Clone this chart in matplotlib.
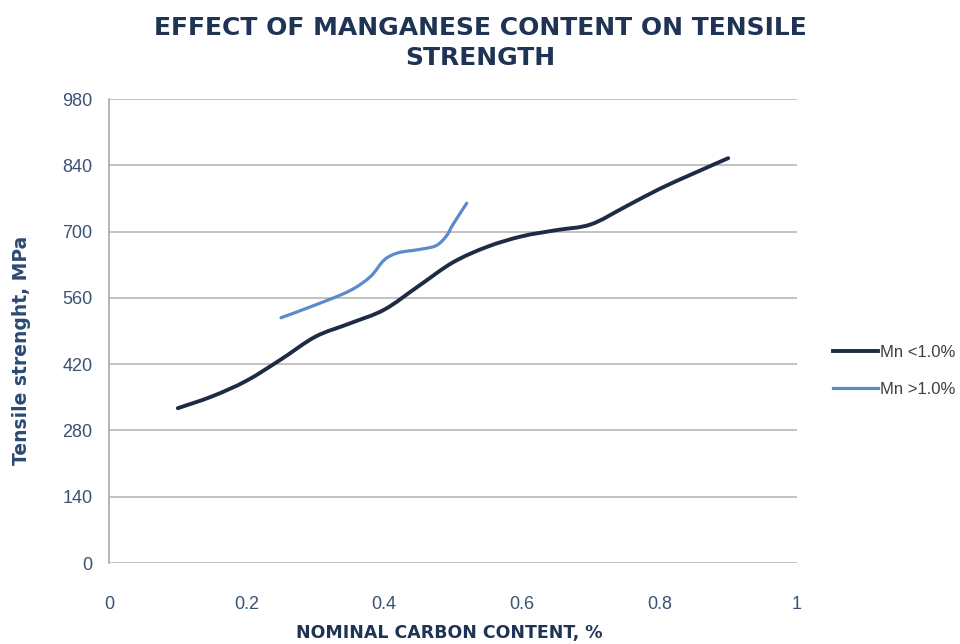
import matplotlib
matplotlib.use("Agg")
import matplotlib.pyplot as plt
from matplotlib.path import Path
from matplotlib.patches import PathPatch
from matplotlib.lines import Line2D

plt.rcParams['font.family'] = ['Liberation Sans', 'DejaVu Sans']

# Data
carbon_low_mn = [0.10, 0.15, 0.20, 0.25, 0.30, 0.35, 0.40, 0.45, 0.50, 0.55,
                 0.60, 0.65, 0.70, 0.75, 0.80, 0.85, 0.90]
strength_low_mn = [327, 352, 385, 430, 478, 506, 535, 585, 635, 668,
                   690, 703, 715, 752, 790, 823, 855]

carbon_high_mn = [0.25, 0.30, 0.35, 0.38, 0.40, 0.42, 0.45, 0.475, 0.49, 0.50, 0.52]
strength_high_mn = [518, 545, 575, 605, 640, 655, 662, 670, 690, 715, 760]

x_ticks = [0, 0.2, 0.4, 0.6, 0.8, 1]
x_tick_labels = ['0', '0.2', '0.4', '0.6', '0.8', '1']
y_ticks = [0, 140, 280, 420, 560, 700, 840, 980]

title_text = "EFFECT OF MANGANESE CONTENT ON TENSILE\nSTRENGTH"
x_label = "NOMINAL CARBON CONTENT, %"
y_label = "Tensile strenght, MPa"
series_names = ["Mn <1.0%", "Mn >1.0%"]

navy = "#1f3355"
tick_col = "#3b5275"
col_low = "#1e2b44"
col_high = "#5a8ccc"


def smooth_path(xs, ys):
    """Smooth (Catmull-Rom style) line through the given points, like a spreadsheet 'smoothed line'."""
    pts = list(zip(xs, ys))
    verts = [pts[0]]
    codes = [Path.MOVETO]
    n = len(pts)
    for i in range(n - 1):
        p0 = pts[i - 1] if i > 0 else pts[i]
        p1 = pts[i]
        p2 = pts[i + 1]
        p3 = pts[i + 2] if i + 2 < n else pts[i + 1]
        c1 = (p1[0] + (p2[0] - p0[0]) / 6, p1[1] + (p2[1] - p0[1]) / 6)
        c2 = (p2[0] - (p3[0] - p1[0]) / 6, p2[1] - (p3[1] - p1[1]) / 6)
        verts += [c1, c2, p2]
        codes += [Path.CURVE4] * 3
    return Path(verts, codes)


fig = plt.figure(figsize=(9.6, 6.44), dpi=100)
ax = fig.add_axes([109/960, 1-563/644, (797-109)/960, (563-99)/644])

ax.add_patch(PathPatch(smooth_path(carbon_low_mn, strength_low_mn), fill=False,
                       edgecolor=col_low, lw=2.8, capstyle='round', joinstyle='round'))
ax.add_patch(PathPatch(smooth_path(carbon_high_mn, strength_high_mn), fill=False,
                       edgecolor=col_high, lw=2.3, capstyle='round', joinstyle='round'))

ax.set_xlim(0, 1)
ax.set_ylim(0, 980)
ax.set_xticks(x_ticks)
ax.set_xticklabels(x_tick_labels)
ax.set_yticks(y_ticks)
ax.grid(axis='y', color='#bdbdbd', lw=1.3)
ax.set_axisbelow(True)
for s in ['top', 'right', 'bottom']:
    ax.spines[s].set_visible(False)
ax.spines['left'].set_color('#b0b0b0')
ax.spines['left'].set_linewidth(1.3)
ax.tick_params(axis='both', length=0, labelsize=13, colors=tick_col)
ax.tick_params(axis='x', pad=24)
ax.tick_params(axis='y', pad=12)

fig.text(0.5, 1-43/644, title_text, ha='center', va='center', fontsize=18,
         fontweight='bold', color=navy, linespacing=1.3, family='DejaVu Sans')
fig.text(449/960, 1-633/644, x_label, ha='center', va='center', fontsize=12.5,
         fontweight='bold', color=navy, family='DejaVu Sans')
fig.text(22/960, 1-350/644, y_label, ha='center', va='center', rotation=90,
         fontsize=13.5, fontweight='bold', color="#2c4a72", family='DejaVu Sans')

handles = [Line2D([], [], color=col_low, lw=2.8), Line2D([], [], color=col_high, lw=2.3)]
leg = fig.legend(handles, series_names, loc='center left', bbox_to_anchor=(0.868, 1-371/644),
                 frameon=False, fontsize=12, handlelength=2.7, handletextpad=0.1,
                 labelspacing=1.35, labelcolor='#404040', borderaxespad=0, borderpad=0)

fig.savefig("out.png", dpi=100, facecolor='white')
